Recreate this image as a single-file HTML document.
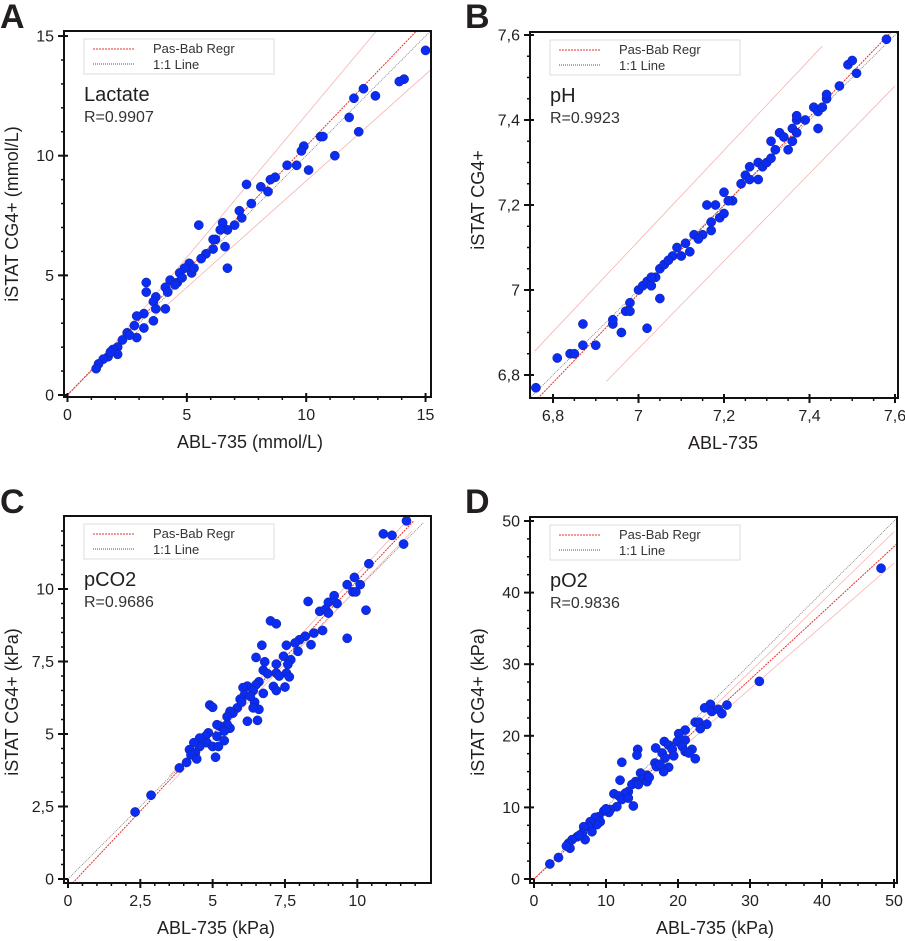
<!DOCTYPE html>
<html><head><meta charset="utf-8"><style>
html,body{margin:0;padding:0;background:#fff;}
svg{display:block;font-family:"Liberation Sans",Arial,sans-serif;}
</style></head><body>
<svg id="fig" width="905" height="941" viewBox="0 0 905 941" xmlns="http://www.w3.org/2000/svg"></svg>
<script>
// ---- Panel A: Lactate ----
const aX=[15,14.1,13.9,12.4,12.0,12.9,11.8,12.2,11.2,10.6,10.7,9.9,9.8,9.2,9.6,10.1,8.7,8.5,8.1,8.4,7.5,7.7,7.2,7.3,7.0,6.5,6.7,6.4,6.2,6.1,6.6,6.7,5.5,6.1,5.8,5.6,5.1,5.2,4.9,4.7,4.3,4.6,4.1,4.2,3.3,3.3,3.7,3.6,4.1,3.7,3.6,3.2,2.9,2.8,3.2,2.9,2.5,2.3,2.1,1.9,2.1,1.7,1.5,1.3,1.2,4.5,4.8,5.3,2.6,1.8];
const aY=[14.4,13.2,13.1,12.8,12.4,12.5,11.6,11.0,10.0,10.8,10.8,10.4,10.2,9.6,9.6,9.4,9.1,9.0,8.7,8.5,8.8,8.0,7.7,7.4,7.1,7.2,6.9,6.9,6.5,6.5,6.2,5.3,7.1,6.1,5.9,5.7,5.5,5.1,5.3,5.1,4.8,4.7,4.5,4.3,4.7,4.3,4.1,3.9,3.6,3.6,3.1,3.4,3.3,2.9,2.8,2.4,2.6,2.3,2.0,1.9,1.7,1.6,1.5,1.3,1.1,4.6,4.9,5.3,2.5,1.8];
// ---- Panel B: pH ----
const bX=[6.76,6.81,6.84,6.85,6.87,6.87,6.90,6.94,6.94,6.96,7.02,6.97,6.98,6.98,7.00,7.01,7.02,7.03,7.05,7.04,7.05,7.06,7.06,7.08,7.09,7.10,7.11,7.12,7.13,7.15,7.17,7.17,7.16,7.18,7.19,7.20,7.20,7.22,7.24,7.25,7.26,7.26,7.28,7.28,7.29,7.30,7.32,7.31,7.33,7.34,7.35,7.36,7.37,7.37,7.36,7.37,7.39,7.41,7.42,7.42,7.43,7.44,7.44,7.47,7.49,7.50,7.51,7.58,7.03,7.07,7.14,7.21,7.31];
const bY=[6.77,6.84,6.85,6.85,6.92,6.87,6.87,6.92,6.93,6.90,6.91,6.95,6.97,6.95,7.00,7.01,7.02,7.01,6.98,7.03,7.05,7.06,7.06,7.08,7.10,7.08,7.11,7.09,7.13,7.13,7.16,7.14,7.20,7.20,7.17,7.23,7.18,7.21,7.25,7.27,7.29,7.26,7.26,7.30,7.29,7.30,7.33,7.35,7.37,7.36,7.33,7.38,7.40,7.37,7.35,7.41,7.40,7.43,7.42,7.38,7.43,7.45,7.46,7.48,7.53,7.54,7.51,7.59,7.03,7.07,7.12,7.21,7.31];
// ---- Panel C: pCO2 ----
const cX=[11.7,10.9,11.2,11.6,10.4,9.9,9.65,10.1,9.85,9.95,10.3,9.2,9.0,9.3,8.3,8.7,8.9,9.0,9.65,7.0,7.2,8.8,8.5,8.4,8.2,8.0,7.85,7.95,7.55,7.45,6.7,6.5,6.8,7.2,7.7,7.6,7.55,7.65,7.2,7.5,7.1,7.2,6.75,6.9,6.6,6.5,6.75,6.2,6.05,6.4,6.1,5.95,6.45,6.6,6.4,5.85,5.7,5.6,6.2,6.55,5.5,4.9,5.0,5.6,5.5,5.25,5.15,5.4,5.15,4.85,4.75,4.55,4.8,4.55,4.35,4.2,4.4,4.25,5.0,5.2,5.4,5.1,4.45,4.1,3.85,2.87,2.32,6.3,6.0,7.3];
const cY=[12.35,11.9,11.85,11.55,10.87,10.4,10.15,10.15,9.9,9.9,9.27,9.77,9.54,9.5,9.57,9.23,9.3,9.17,8.3,8.9,8.8,8.57,8.48,8.08,8.37,8.25,8.14,7.85,8.06,7.68,8.06,7.64,7.49,7.41,7.56,7.4,7.1,6.97,7.1,6.62,6.64,6.5,7.2,7.08,6.8,6.7,6.4,6.65,6.6,6.5,6.35,6.2,6.1,5.85,5.9,5.9,5.72,5.78,5.44,5.47,5.6,6.0,5.92,5.2,5.33,5.27,5.32,5.1,4.92,5.04,4.92,4.86,4.7,4.57,4.7,4.46,4.35,4.28,4.57,4.57,4.77,4.2,4.14,4.02,3.83,2.89,2.31,6.3,6.1,7.0];
// ---- Panel D: pO2 ----
const dX=[48.2,31.3,26.8,24.5,23.7,24.7,25.6,26.1,22.4,22.9,24.0,23.1,21.0,20.1,22.4,21.95,21.0,19.9,20.6,21.0,21.5,18.1,18.7,16.9,19.2,19.4,17.8,18.2,18.7,18.0,16.8,17.0,14.4,14.3,12.2,11.95,15.7,14.8,15.0,14.1,15.7,13.6,14.5,13.1,12.7,11.1,11.8,12.2,13.1,13.8,11.5,10.6,10.4,9.7,9.0,8.5,9.2,8.75,7.8,7.6,6.9,8.05,7.1,6.7,6.0,5.3,4.8,5.0,4.5,3.4,2.2,16.0,17.5,10.0,6.3];
const dY=[43.4,27.6,24.3,24.4,23.9,23.4,23.7,23.1,21.9,21.9,21.6,21.0,20.8,20.3,16.8,18.1,19.4,19.2,18.5,17.8,17.6,19.2,18.7,18.3,18.1,17.2,17.6,16.9,15.6,15.0,16.2,15.7,18.1,17.3,16.3,13.8,14.5,14.8,13.9,13.6,13.6,13.2,13.2,12.2,12.0,11.9,11.6,11.1,11.3,10.2,10.1,9.7,9.3,9.5,8.7,8.6,8.0,7.6,8.0,7.3,7.3,6.6,5.5,6.4,5.9,5.5,5.0,4.3,4.6,3.0,2.1,14.2,16.0,9.8,6.1];
const aTicks=[0,5,10,15], aLabels=["0","5","10","15"];
const bTicks=[6.8,7,7.2,7.4,7.6], bLabels=["6,8","7","7,2","7,4","7,6"];
const cTicks=[0,2.5,5,7.5,10], cLabels=["0","2,5","5","7,5","10"];
const dTicks=[0,10,20,30,40,50], dLabels=["0","10","20","30","40","50"];

const NS="http://www.w3.org/2000/svg";
const fig=document.getElementById('fig');
function mk(tag,attrs,parent){const e=document.createElementNS(NS,tag);for(const k in attrs)e.setAttribute(k,attrs[k]);(parent||fig).appendChild(e);return e;}

function panel(p){
  const g=mk('g',{});
  
  
  const xs=v=>p.x0+(v-p.v0)*p.kx, ys=v=>p.y0-(v-p.v0)*p.ky;
  const [L,T,R,B]=p.box;
  const cid='clip-'+p.id;
  const cp=mk('clipPath',{id:cid},g); mk('rect',{x:L,y:T,width:R-L,height:B-T},cp);
  const letter=mk('text',{x:p.lx,y:p.ly,'font-size':34,'font-weight':'bold',fill:'#231f20'},g); letter.textContent=p.letter;
  
  
  const lg=mk('g',{'clip-path':'url(#'+cid+')'},g);
  for(const ln of p.lines){
    const l=mk('line',{x1:xs(ln[0]),y1:ys(ln[1]),x2:xs(ln[2]),y2:ys(ln[3]),stroke:ln[4],'stroke-width':ln[5],'stroke-dasharray':ln[6]||'none'},lg);
    
    
  }
  const pg=mk('g',{'clip-path':'url(#'+cid+')'},g);
  for(let i=0;i<p.X.length;i++){
    const c=mk('circle',{cx:xs(p.X[i]),cy:ys(p.Y[i]),r:4.6,fill:'#0b2cf2',stroke:'#14248c','stroke-width':0.5},pg);
    
    
  }
  const fr=mk('rect',{x:L,y:T,width:R-L,height:B-T,fill:'none',stroke:'#111','stroke-width':2},g);
  
  
  for(let v=p.minorStart;v<=p.maxV+1e-9;v+=p.minor){
    const X=xs(v), Y=ys(v);
    if(X>L+2&&X<R-2) mk('line',{x1:X,y1:B,x2:X,y2:B+3,stroke:'#111','stroke-width':1.5},g);
    if(Y>T+2&&Y<B-2) mk('line',{x1:L,y1:Y,x2:L-3,y2:Y,stroke:'#111','stroke-width':1.5},g);
  }
  p.ticks.forEach((v,i)=>{
    const X=xs(v),Y=ys(v);
    mk('line',{x1:X,y1:B-4,x2:X,y2:B+5,stroke:'#111','stroke-width':2},g);
    mk('line',{x1:L-6,y1:Y,x2:L+4,y2:Y,stroke:'#111','stroke-width':2},g);
    const tx=mk('text',{x:X,y:B+23,'font-size':16,'text-anchor':'middle',fill:'#231f20'},g); tx.textContent=p.labels[i];
    
    
    const ty=mk('text',{x:L-10,y:Y+5.5,'font-size':16,'text-anchor':'end',fill:'#231f20'},g); ty.textContent=p.labels[i];
    
    
  });
  const xt=mk('text',{x:p.xtx,y:B+51,'font-size':18,'text-anchor':'middle',fill:'#231f20'},g); xt.textContent=p.xtitle;
  
  
  const yt=mk('text',{x:0,y:0,'font-size':18,'text-anchor':'middle',fill:'#231f20',transform:'translate('+p.ytx+','+p.yty+') rotate(-90)'},g); yt.textContent=p.ytitle;
  
  
  const lx=L+20, ly=T+8;
  const lb=mk('rect',{x:lx,y:ly,width:190,height:35,fill:'#fff',stroke:'#ddd','stroke-width':1},g);
  
  
  mk('line',{x1:lx+9,y1:ly+10,x2:lx+51,y2:ly+10,stroke:'#e8302a','stroke-width':1,'stroke-dasharray':'2 1'},g);
  mk('line',{x1:lx+9,y1:ly+25,x2:lx+51,y2:ly+25,stroke:'#555','stroke-width':1,'stroke-dasharray':'1 1'},g);
  const l1=mk('text',{x:lx+69,y:ly+14,'font-size':13,fill:'#333'},g); l1.textContent='Pas-Bab Regr';
  
  
  const l2=mk('text',{x:lx+69,y:ly+30,'font-size':13,fill:'#333'},g); l2.textContent='1:1 Line';
  
  
  const an=mk('text',{x:lx,y:ly+62,'font-size':20,fill:'#231f20'},g); an.textContent=p.analyte;
  
  
  const rr=mk('text',{x:lx,y:ly+83,'font-size':16,fill:'#333'},g); rr.textContent=p.r;
  
  
}
const RED='#e8302a', PINK='#f7b3b0', GRAY='#777';
panel({id:'panel-a-lactate',letter:'A',lx:0,ly:28,box:[64,31,431,397],x0:67.5,y0:395,v0:0,kx:23.87,ky:23.93,
  X:aX,Y:aY,ticks:aTicks,labels:aLabels,minor:1,minorStart:0,maxV:15.5,
  lines:[[0,0,15.3,15.3,GRAY,0.8,'1 1','identity-line'],[0,0,14.8,15.4,RED,1,'2 1','regression-line'],
         [1,0.99,13.1,15.4,PINK,0.8,null,'upper-limit'],[1,0.94,15.5,13.84,PINK,0.8,null,'lower-limit']],
  xtitle:'ABL-735 (mmol/L)',xtx:250,ytitle:'iSTAT CG4+ (mmol/L)',ytx:18,yty:214,analyte:'Lactate',r:'R=0.9907'});
panel({id:'panel-b-ph',letter:'B',lx:465,ly:28,box:[530,32,898,398],x0:553,y0:375,v0:6.8,kx:427.5,ky:425,
  X:bX,Y:bY,ticks:bTicks,labels:bLabels,minor:0.05,minorStart:6.75,maxV:7.61,
  lines:[[6.7,6.7,7.65,7.65,GRAY,0.8,'1 1','identity-line'],[6.75,6.73,7.62,7.637,RED,1,'2 1','regression-line'],
         [6.757,6.856,7.43,7.574,PINK,0.8,null,'upper-limit'],[6.925,6.785,7.6,7.48,PINK,0.8,null,'lower-limit']],
  xtitle:'ABL-735',xtx:723,ytitle:'iSTAT CG4+',ytx:484,yty:200,analyte:'pH',r:'R=0.9923'});
panel({id:'panel-c-pco2',letter:'C',lx:0,ly:513,box:[64,516,431,883],x0:68,y0:879,v0:0,kx:28.93,ky:29,
  X:cX,Y:cY,ticks:cTicks,labels:cLabels,minor:0.5,minorStart:0,maxV:12.6,
  lines:[[0,0,12.3,12.3,GRAY,0.8,'1 1','identity-line'],[0.16,-0.14,11.95,12.35,RED,1,'2 1','regression-line'],
         [3.5,3.55,11.9,12.55,PINK,0.8,null,'upper-limit'],[3.5,3.25,11.9,12.0,PINK,0.8,null,'lower-limit']],
  xtitle:'ABL-735 (kPa)',xtx:216,ytitle:'iSTAT CG4+ (kPa)',ytx:18,yty:702,analyte:'pCO2',r:'R=0.9686'});
panel({id:'panel-d-po2',letter:'D',lx:465,ly:513,box:[530,517,897,883],x0:534,y0:879,v0:0,kx:7.2,ky:7.16,
  X:dX,Y:dY,ticks:dTicks,labels:dLabels,minor:2.5,minorStart:0,maxV:50.5,
  lines:[[0,0,50.5,50.5,GRAY,0.8,'1 1','identity-line'],[0,0,50.5,46.9,RED,1,'2 1','regression-line'],
         [15,14.3,50,48.5,PINK,0.8,null,'upper-limit'],[15,13.4,50,44.1,PINK,0.8,null,'lower-limit']],
  xtitle:'ABL-735 (kPa)',xtx:715,ytitle:'iSTAT CG4+ (kPa)',ytx:484,yty:702,analyte:'pO2',r:'R=0.9836'});
</script>
</body></html>
